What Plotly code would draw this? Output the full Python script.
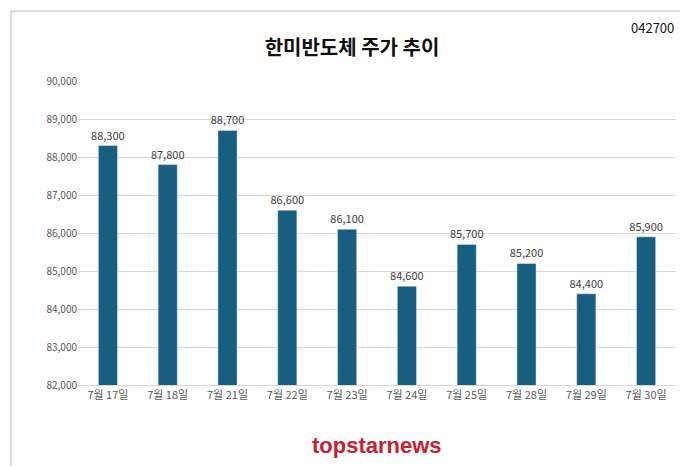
import plotly.graph_objects as go

dates = ["7월 17일", "7월 18일", "7월 21일", "7월 22일", "7월 23일",
         "7월 24일", "7월 25일", "7월 28일", "7월 29일", "7월 30일"]
prices = [88300, 87800, 88700, 86600, 86100, 84600, 85700, 85200, 84400, 85900]
y_ticks = list(range(82000, 90001, 1000))

fig = go.Figure()
fig.add_trace(go.Bar(
    x=dates, y=prices, width=0.32,
    marker=dict(color="#175e80"),
    text=[f"{p:,}" for p in prices], textposition="outside",
    constraintext="none",
    textfont=dict(size=11, color="#404040"), cliponaxis=False,
))

fig.update_layout(
    width=688, height=466,
    margin=dict(l=70, r=20, t=73, b=89),
    paper_bgcolor="white", plot_bgcolor="white",
    font=dict(family="Noto Sans CJK KR", color="#595959"),
    title=dict(text="<b>한미반도체 주가 추이</b>", x=0.5, xanchor="center",
               y=0.915, yanchor="middle", font=dict(size=20, color="#111111")),
    showlegend=False,
    xaxis=dict(showline=True, linecolor="#d9d9d9", tickfont=dict(size=11)),
    yaxis=dict(range=[82000, 90000], tickvals=y_ticks,
               ticktext=[f"{v:,}" for v in y_ticks], gridcolor="#d9d9d9",
               tickfont=dict(size=10), zeroline=False),
    annotations=[
        dict(text="042700", xref="paper", yref="paper", x=1.0, y=1.215,
             xanchor="right", showarrow=False, font=dict(size=13, color="#111111")),
        dict(text="<b>topstarnews</b>", xref="paper", yref="paper", x=0.5, y=-0.15,
             xanchor="center", yanchor="top", showarrow=False,
             font=dict(family="Liberation Sans", size=22, color="#c8202f")),
    ],
    shapes=[dict(type="rect", xref="paper", yref="paper", x0=-0.112, x1=1.028,
                 y0=-0.28, y1=1.23, line=dict(color="#bfbfbf", width=1))],
)

fig.write_html("out.html")
